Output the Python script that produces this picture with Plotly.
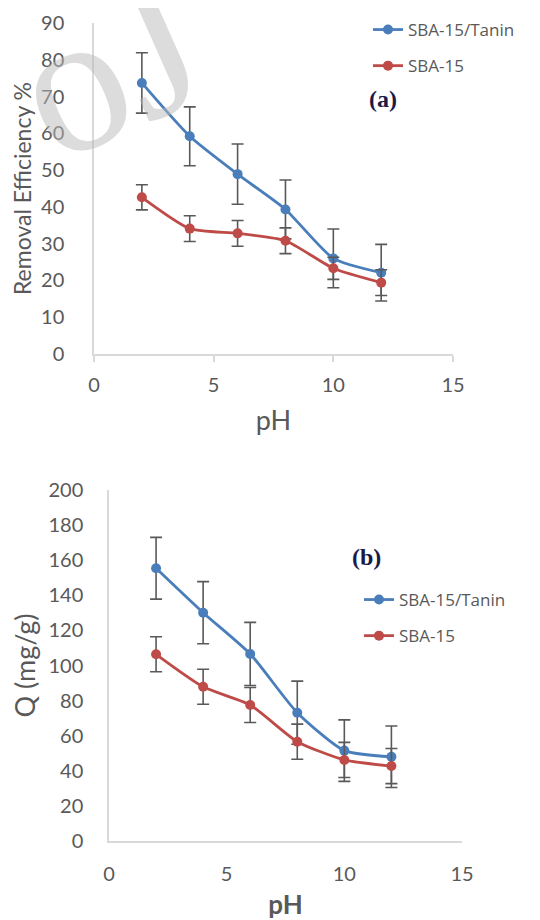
import plotly.graph_objects as go

ph = [2, 4, 6, 8, 10, 12]

# (a) Removal efficiency %
re_tanin = [73.7, 59.2, 48.9, 39.3, 26.0, 22.1]
re_tanin_err = [8.2, 8.0, 8.2, 8.0, 8.0, 7.7]
re_sba = [42.6, 34.1, 32.8, 30.8, 23.3, 19.4]
re_sba_err = [3.4, 3.5, 3.5, 3.5, 3.0, 3.5]

# (b) Q (mg/g)
q_tanin = [155.4, 130.1, 106.6, 73.1, 51.5, 48.0]
q_tanin_err = [17.6, 17.7, 18.0, 18.0, 17.5, 17.5]
q_sba = [106.4, 87.9, 77.5, 56.6, 46.2, 42.7]
q_sba_err = [10.0, 10.0, 10.0, 10.0, 10.0, 10.0]

x_ticks = [0, 5, 10, 15]
y_ticks_a = [0, 10, 20, 30, 40, 50, 60, 70, 80, 90]
y_ticks_b = [0, 20, 40, 60, 80, 100, 120, 140, 160, 180, 200]

BLUE = "#4a7ebb"
RED = "#be4b48"
ERR = "#595959"
GRAY = "#595959"
AXIS = "#d9d9d9"
OFF = 8  # page body margin
W, H = 540 - OFF, 920 - OFF
FONT = "Lato, Open Sans, sans-serif"


def fx(p):
    return (p - OFF) / W


def fy(p):
    return 1 - (p - OFF) / H


def err(vals):
    return dict(type="data", array=vals, visible=True, color=ERR, thickness=1.6, width=6)


fig = go.Figure()

series = [
    ("SBA-15/Tanin", re_tanin, re_tanin_err, BLUE, "x", "y", "legend", "a1"),
    ("SBA-15", re_sba, re_sba_err, RED, "x", "y", "legend", "a2"),
    ("SBA-15/Tanin", q_tanin, q_tanin_err, BLUE, "x2", "y2", "legend2", "b1"),
    ("SBA-15", q_sba, q_sba_err, RED, "x2", "y2", "legend2", "b2"),
]
for name, ys, es, col, xa, ya, leg, grp in series:
    fig.add_trace(go.Scatter(
        x=ph, y=ys, name=name, mode="lines+markers",
        line=dict(color=col, width=2.8, shape="spline", smoothing=0.6),
        marker=dict(color=col, size=10),
        error_y=err(es), xaxis=xa, yaxis=ya, legend=leg, legendgroup=grp,
    ))

tickfont = dict(family=FONT, size=20, color=GRAY)

common = dict(showgrid=False, zeroline=False, showline=True, linecolor=AXIS, linewidth=1.5,
              automargin=False, tickfont=tickfont)

legfont = dict(family="Open Sans, sans-serif", size=17, color=GRAY)

fig.update_layout(
    width=W, height=H,
    margin=dict(l=0, r=0, t=0, b=0),
    paper_bgcolor="white", plot_bgcolor="white",
    showlegend=True,
    xaxis=dict(domain=[fx(94), fx(453)], anchor="y", range=[0, 15], tickvals=x_ticks,
               ticks="outside", ticklen=6, tickcolor=AXIS, tickwidth=1.5, ticklabelstandoff=6,
               title=dict(text="pH", font=dict(family=FONT, size=27, color=GRAY), standoff=16),
               **common),
    yaxis=dict(domain=[fy(354), fy(23)], anchor="x", range=[0, 90], tickvals=y_ticks_a,
               ticks="", ticklabelstandoff=24,
               title=dict(text="Removal Efficiency %", font=dict(family=FONT, size=23, color=GRAY), standoff=11),
               **common),
    xaxis2=dict(domain=[fx(109), fx(462)], anchor="y2", range=[0, 15], tickvals=x_ticks,
                ticks="", ticklabelstandoff=14,
                title=dict(text="<b>pH</b>", font=dict(family=FONT, size=26, color=GRAY), standoff=14),
                **common),
    yaxis2=dict(domain=[fy(841), fy(490)], anchor="x2", range=[0, 200], tickvals=y_ticks_b,
                ticks="", ticklabelstandoff=20,
                title=dict(text="Q (mg/g)", font=dict(family=FONT, size=27, color=GRAY), standoff=8),
                **common),
    legend=dict(x=fx(368), y=fy(12), xanchor="left", yanchor="top",
                bgcolor="rgba(0,0,0,0)", traceorder="grouped", tracegroupgap=11,
                font=legfont),
    legend2=dict(x=fx(359), y=fy(582), xanchor="left", yanchor="top",
                 bgcolor="rgba(0,0,0,0)", traceorder="grouped", tracegroupgap=11,
                 font=legfont),
    annotations=[
        dict(text="<b>(a)</b>", x=fx(383), y=fy(99), xref="paper", yref="paper",
             xanchor="center", yanchor="middle",
             showarrow=False, font=dict(family="Liberation Serif, serif", size=24, color="#1a1a4a")),
        dict(text="<b>(b)</b>", x=fx(366), y=fy(557), xref="paper", yref="paper",
             xanchor="center", yanchor="middle",
             showarrow=False, font=dict(family="Liberation Serif, serif", size=24, color="#1a1a4a")),
        dict(text="oJ", x=fx(108), y=fy(66), xref="paper", yref="paper",
             xanchor="center", yanchor="middle",
             showarrow=False, textangle=-24,
             font=dict(family="Liberation Serif, serif", size=200, color="rgba(185,185,185,0.5)")),
    ],
)

fig.write_html("out.html")
